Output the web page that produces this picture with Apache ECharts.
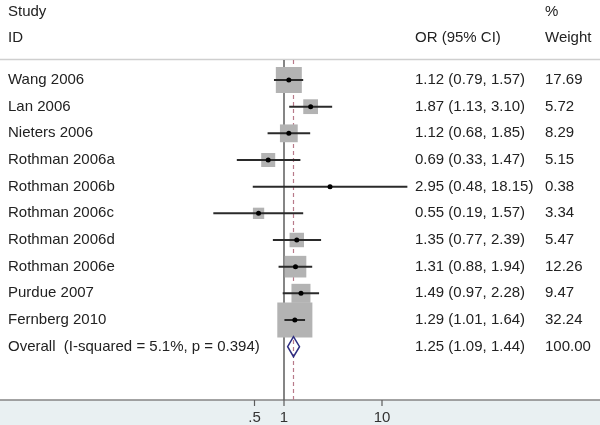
<!DOCTYPE html>
<html>
<head>
<meta charset="utf-8">
<script src="https://cdn.jsdelivr.net/npm/echarts@6/dist/echarts.min.js"></script>
<style>
    html, body { margin: 0; padding: 0; background: #fff; }
</style>
</head>
<body>
<div id="chart" style="width: 600px; height: 425px;"></div>
<script>
const studies = ['Wang 2006', 'Lan 2006', 'Nieters 2006', 'Rothman 2006a', 'Rothman 2006b',
    'Rothman 2006c', 'Rothman 2006d', 'Rothman 2006e', 'Purdue 2007', 'Fernberg 2010']
const oddsRatio = [1.12, 1.87, 1.12, 0.69, 2.95, 0.55, 1.35, 1.31, 1.49, 1.29]
const ciLow = [0.79, 1.13, 0.68, 0.33, 0.48, 0.19, 0.77, 0.88, 0.97, 1.01]
const ciHigh = [1.57, 3.10, 1.85, 1.47, 18.15, 1.57, 2.39, 1.94, 2.28, 1.64]
const weights = [17.69, 5.72, 8.29, 5.15, 0.38, 3.34, 5.47, 12.26, 9.47, 32.24]

const overallLabel = 'Overall  (I-squared = 5.1%, p = 0.394)'
const overallOR = 1.25
const overallCI = [1.09, 1.44]
const overallWeight = 100

const tickValues = [0.5, 1, 10]
const tickLabels = ['.5', '1', '10']

const font = '"Liberation Sans", Arial, sans-serif'
const textColor = '#222'

// plot rows run 0..10; the axis sits at row 12 and the ticks hang just under it
const rowMin = -0.75
const axisRow = 12
const rowMax = 12.225

const rowNames = studies.concat([overallLabel])
const rowOR = oddsRatio.concat([overallOR])
const rowLow = ciLow.concat([overallCI[0]])
const rowHigh = ciHigh.concat([overallCI[1]])
const rowWeight = weights.concat([overallWeight])
const rowText = rowOR.map((v, i) =>
    v.toFixed(2) + ' (' + rowLow[i].toFixed(2) + ', ' + rowHigh[i].toFixed(2) + ')')

const boxData = studies.map((s, i) => [oddsRatio[i], i, weights[i]])
const pointData = studies.map((s, i) => [oddsRatio[i], i])
const ciData = studies.map((s, i) => [ciLow[i], ciHigh[i], i])
const tickData = tickValues.map(v => [v, axisRow, rowMax])
const overallRow = studies.length

var chartDom = document.getElementById('chart');
var myChart = echarts.init(chartDom, null, { renderer: 'canvas' });
var option;

function headerText(x, y, text) {
    return {
        type: 'text', x: x, y: y,
        style: { text: text, fill: textColor, font: '15px ' + font, textVerticalAlign: 'middle' }
    }
}

option = {
    animation: false,
    textStyle: { fontFamily: font },
    graphic: [
        { type: 'line', shape: { x1: 0, y1: 59.5, x2: 600, y2: 59.5 }, style: { stroke: '#cfcfcf', lineWidth: 1.5 } },
        headerText(8, 12, 'Study'),
        headerText(8, 38, 'ID'),
        headerText(415, 38, 'OR (95% CI)'),
        headerText(545, 12, '%'),
        headerText(545, 38, 'Weight')
    ],
    grid: [
        { left: 186, width: 294, top: 60, bottom: 19 },
        { left: 8, width: 407, top: 66.667, height: 293.333 },
        // bottom band under the axis, with the full-width axis line as its top border
        { left: 0, right: 0, top: 400, bottom: 0, show: true, backgroundColor: '#e9f0f2', borderWidth: 0 }
    ],
    xAxis: [
        {
            type: 'log', logBase: 10, min: 0.1, max: 100, gridIndex: 0,
            position: 'bottom',
            axisLine: { show: false, onZero: false },
            splitLine: { show: false },
            axisTick: { show: false },
            axisLabel: {
                customValues: tickValues,
                margin: 4,
                fontSize: 15, color: '#333', fontFamily: font,
                formatter: (value) => {
                    let best = 0
                    tickValues.forEach((t, i) => {
                        if (Math.abs(Math.log(t) - Math.log(value)) < Math.abs(Math.log(tickValues[best]) - Math.log(value))) best = i
                    })
                    return tickLabels[best]
                }
            }
        },
        { type: 'value', gridIndex: 1, show: false },
        {
            type: 'value', gridIndex: 2, position: 'top',
            axisLine: { show: true, onZero: false, lineStyle: { color: '#858585', width: 1.5 } },
            axisTick: { show: false }, axisLabel: { show: false }, splitLine: { show: false }
        }
    ],
    yAxis: [
        { type: 'value', gridIndex: 0, min: rowMin, max: rowMax, inverse: true, show: false },
        {
            type: 'category', gridIndex: 1, inverse: true, data: rowNames,
            axisLine: { show: false }, axisTick: { show: false },
            axisLabel: { align: 'left', margin: 0, fontSize: 15, color: textColor, fontFamily: font }
        },
        {
            type: 'category', gridIndex: 1, inverse: true, position: 'right', data: rowNames,
            axisLine: { show: false }, axisTick: { show: false },
            axisLabel: {
                align: 'left', margin: 0, color: textColor,
                formatter: (value, index) => '{a|' + rowText[index] + '}{b|' + rowWeight[index].toFixed(2) + '}',
                rich: {
                    a: { width: 130, fontSize: 15, color: textColor, fontFamily: font },
                    b: { fontSize: 15, color: textColor, fontFamily: font }
                }
            }
        },
        { type: 'value', gridIndex: 2, show: false }
    ],
    series: [
        {
            name: 'null line',
            type: 'line',
            data: [[1, rowMin], [1, axisRow]],
            symbol: 'none',
            z: 1,
            lineStyle: { color: '#5c5c5c', width: 1.5 }
        },
        {
            name: 'overall line',
            type: 'line',
            data: [[overallOR, rowMin], [overallOR, axisRow]],
            symbol: 'none',
            z: 1,
            lineStyle: { color: '#b87a8a', width: 1.2, type: [4, 3] }
        },
        {
            // axis ticks hanging under the axis line, on a layer above the band
            name: 'ticks',
            type: 'custom',
            data: tickData,
            encode: { x: 0, y: [1, 2] },
            zlevel: 1,
            z: 6,
            clip: false,
            renderItem: (params, api) => {
                const p1 = api.coord([api.value(0), api.value(1)])
                const p2 = api.coord([api.value(0), api.value(2)])
                return {
                    type: 'line',
                    shape: { x1: p1[0], y1: p1[1], x2: p2[0], y2: p2[1] },
                    style: { stroke: '#5c5c5c', lineWidth: 1.2 }
                }
            }
        },
        {
            name: 'weight',
            type: 'scatter',
            data: boxData,
            symbol: 'rect',
            symbolSize: (d) => 6.18 * Math.sqrt(d[2]),
            itemStyle: { color: '#b3b3b3', opacity: 1 },
            z: 3
        },
        {
            name: 'ci',
            type: 'custom',
            data: ciData,
            encode: { x: [0, 1], y: 2 },
            z: 4,
            renderItem: (params, api) => {
                const y = api.value(2)
                const p1 = api.coord([api.value(0), y])
                const p2 = api.coord([api.value(1), y])
                return {
                    type: 'line',
                    shape: { x1: p1[0], y1: p1[1], x2: p2[0], y2: p2[1] },
                    style: { stroke: '#2a2a2a', lineWidth: 2 }
                }
            }
        },
        {
            name: 'or',
            type: 'scatter',
            data: pointData,
            symbol: 'circle',
            symbolSize: 5,
            itemStyle: { color: '#000', opacity: 1 },
            z: 5
        },
        {
            name: 'overall',
            type: 'custom',
            data: [[overallCI[0], overallOR, overallCI[1], overallRow]],
            encode: { x: [0, 1, 2], y: 3 },
            z: 5,
            renderItem: (params, api) => {
                const y = api.value(3)
                const l = api.coord([api.value(0), y])
                const c = api.coord([api.value(1), y])
                const r = api.coord([api.value(2), y])
                return {
                    type: 'polygon',
                    shape: { points: [[l[0], l[1]], [c[0], c[1] - 10], [r[0], r[1]], [c[0], c[1] + 10]] },
                    style: { fill: 'none', stroke: '#2e2e82', lineWidth: 1.5 }
                }
            }
        }
    ]
};

option && myChart.setOption(option);
</script>
</body>
</html>
